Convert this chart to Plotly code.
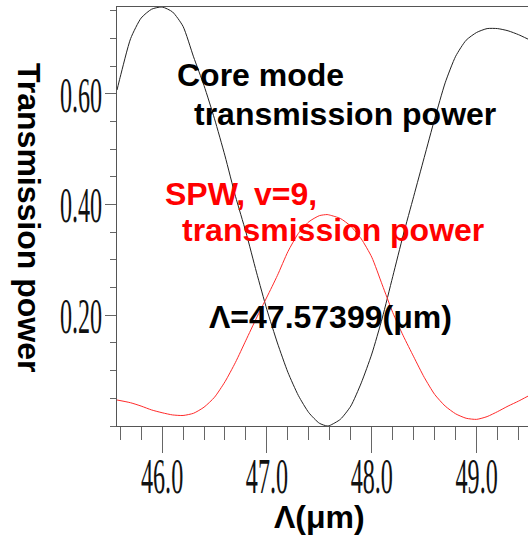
import plotly.graph_objects as go

# Grating period (um) and transmitted power of the two modes
period_core = [45.57, 45.60, 45.70, 45.80, 45.90, 46.00, 46.10, 46.20, 46.30, 46.40,
               46.50, 46.60, 46.70, 46.80, 46.90, 47.00, 47.10, 47.20, 47.30, 47.40,
               47.50, 47.574, 47.60, 47.70, 47.80, 47.90, 48.00, 48.10, 48.20, 48.30,
               48.40, 48.50, 48.60, 48.70, 48.80, 48.90, 49.00, 49.10, 49.20, 49.30,
               49.40, 49.49]
core_power = [0.607, 0.630, 0.700, 0.737, 0.753, 0.757, 0.748, 0.722, 0.667, 0.615,
              0.555, 0.488, 0.415, 0.350, 0.278, 0.210, 0.150, 0.097, 0.055, 0.024,
              0.005, 0.000, 0.001, 0.012, 0.036, 0.078, 0.130, 0.195, 0.270, 0.345,
              0.415, 0.485, 0.555, 0.620, 0.668, 0.697, 0.711, 0.718, 0.718, 0.714,
              0.707, 0.699]

period_spw = [45.57, 45.70, 45.80, 45.90, 46.00, 46.10, 46.20, 46.30, 46.40, 46.50,
              46.60, 46.70, 46.80, 46.90, 47.00, 47.10, 47.20, 47.30, 47.40, 47.50,
              47.574, 47.60, 47.70, 47.80, 47.90, 48.00, 48.10, 48.20, 48.30, 48.40,
              48.50, 48.60, 48.70, 48.80, 48.90, 49.00, 49.10, 49.20, 49.30, 49.40,
              49.49]
spw_power = [0.047, 0.042, 0.036, 0.029, 0.024, 0.020, 0.019, 0.023, 0.034, 0.052,
             0.080, 0.115, 0.155, 0.195, 0.233, 0.272, 0.315, 0.348, 0.369, 0.380,
             0.382, 0.381, 0.375, 0.361, 0.338, 0.305, 0.255, 0.205, 0.163, 0.125,
             0.088, 0.057, 0.036, 0.022, 0.014, 0.012, 0.017, 0.026, 0.036, 0.045,
             0.054]

x_ticks = [46.0, 47.0, 48.0, 49.0]
y_ticks = [0.20, 0.40, 0.60]
x_range = [45.57, 49.49]
y_range = [0.0, 0.757]

W, H = 528, 541
L, R, T, B = 117, 0, 7, 115

fig = go.Figure()
fig.add_trace(go.Scatter(x=period_core, y=core_power, mode="lines",
                         line=dict(color="#222222", width=1, shape="spline", smoothing=0.6),
                         hoverinfo="skip", showlegend=False))
fig.add_trace(go.Scatter(x=period_spw, y=spw_power, mode="lines",
                         line=dict(color="#ff2a2a", width=1, shape="spline", smoothing=0.6),
                         hoverinfo="skip", showlegend=False))

tick_font = dict(family="Liberation Serif, Times New Roman, serif", size=34, color="#111111")
bold = "Liberation Sans, Arial, sans-serif"


def px_x(px):
    return (px - L) / (W - L - R)


def px_y(py):
    return (H - B - py) / (H - B - T)


notes = [
    ("Core mode", 175, 88, "black"),
    ("transmission power", 192, 127, "black"),
    ("SPW, v=9,", 163, 207, "#ff0000"),
    ("transmission power", 180, 243, "#ff0000"),
    ("\u039b=47.57399(\u03bcm)", 207, 330, "black"),
]
for text, x0, base, col in notes:
    fig.add_annotation(text="<b>%s</b>" % text, xref="paper", yref="paper",
                       x=px_x(x0), y=px_y(base + 7), xanchor="left", yanchor="bottom",
                       showarrow=False, font=dict(family=bold, size=32, color=col))

# axis titles
fig.add_annotation(text="<b>\u039b(\u03bcm)</b>", xref="paper", yref="paper",
                   x=px_x(319), y=px_y(537), xanchor="center", yanchor="bottom",
                   showarrow=False, font=dict(family=bold, size=32, color="black"))
fig.add_annotation(text="<b>Transmission power</b>", xref="paper", yref="paper",
                   x=px_x(29), y=px_y(217), xanchor="center", yanchor="middle",
                   textangle=90, showarrow=False,
                   font=dict(family=bold, size=32, color="black"))

fig.update_layout(
    width=W, height=H,
    margin=dict(l=L, r=R, t=T, b=B, pad=0),
    paper_bgcolor="white", plot_bgcolor="white",
    xaxis=dict(range=x_range, tickvals=x_ticks, ticktext=["%.1f" % v for v in x_ticks],
               ticks="outside", ticklen=26, tickwidth=1, tickcolor="#666666",
               minor=dict(dtick=0.2, tick0=46.0, ticks="outside", ticklen=13,
                          tickwidth=1, tickcolor="#666666", showgrid=False),
               showline=True, linecolor="#555555", linewidth=1, mirror=True,
               showgrid=False, zeroline=False, tickfont=tick_font, ticklabelstandoff=0),
    yaxis=dict(range=y_range, tickvals=y_ticks, ticktext=["%.2f" % v for v in y_ticks],
               ticks="outside", ticklen=11, tickwidth=1, tickcolor="#666666",
               minor=dict(dtick=0.05, tick0=0.0, ticks="outside", ticklen=6,
                          tickwidth=1, tickcolor="#666666", showgrid=False),
               showline=True, linecolor="#555555", linewidth=1, mirror=False,
               showgrid=False, zeroline=False, tickfont=tick_font, ticklabelstandoff=0),
)

# narrow, tall tick numerals: squeeze each label horizontally, stretch it vertically
# and nudge it toward its axis
squeeze_js = """
var gd = document.getElementById('{plot_id}');
var SX = 0.71, SY = 1.52;
gd.querySelectorAll('.xtick text, .ytick text').forEach(function (t) {
  var base = t.getAttribute('transform') || '';
  var b = t.getBBox();
  var isY = t.closest('.ytick') !== null;
  var cx = isY ? b.x + b.width : b.x + b.width / 2;
  var cy = isY ? b.y + b.height / 2 : b.y;
  var dx = isY ? 4 : 0, dy = isY ? 0 : -16;
  t.setAttribute('transform', base + ' translate(' + (cx + dx) + ',' + (cy + dy) + ') scale(' + SX + ',' + SY +
                 ') translate(' + (-cx) + ',' + (-cy) + ')');
});
"""

fig.write_html("out.html", post_script=squeeze_js)
